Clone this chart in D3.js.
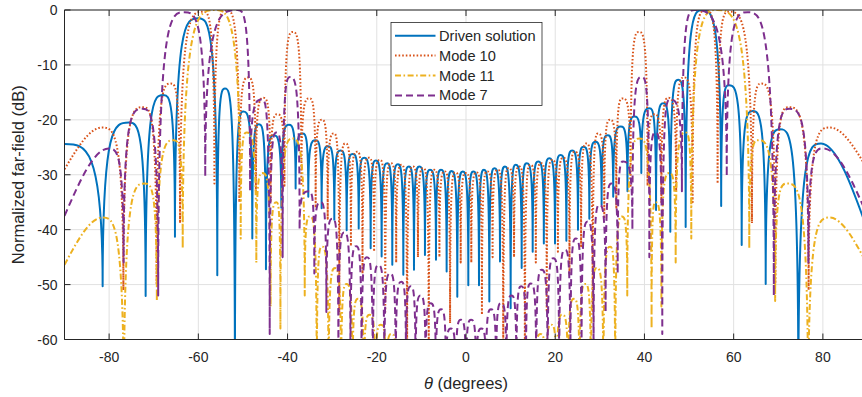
<!DOCTYPE html>
<html>
<head>
<meta charset="utf-8">
<script src="https://cdn.jsdelivr.net/npm/d3@7"></script>
<style>
  html, body { margin: 0; padding: 0; background: #fff; }
  svg { display: block; }
  text { font-family: "Liberation Sans", Arial, Helvetica, sans-serif; fill: #262626; }
</style>
</head>
<body>
<svg id="chart" width="862" height="397"></svg>
<script>
// Far-field patterns: lobe extrema as [theta (deg), level (dB)], nulls and peaks alternating
const drivenLobes = [
  [-90,-24.4],[-81.45,-50.3],[-75.55,-20.5],[-71.81,-52.1],[-67.85,-15.5],[-65.24,-41.3],
  [-60.0,-1.5],[-55.75,-48.3],[-54.03,-14.3],[-51.8,-70],[-49.92,-18.5],[-47.9,-41.6],
  [-46.41,-20.8],[-44.84,-47.2],[-43.12,-22.8],[-41.4,-36],[-39.7,-20.9],[-38.19,-32.5],
  [-36.65,-22.5],[-35.35,-34.0],[-33.7,-23.7],[-32.36,-36.1],[-30.9,-24.8],[-29.52,-38.2],
  [-28.1,-25.6],[-26.75,-40.1],[-25.4,-26.2],[-24.05,-39.8],[-22.8,-26.9],[-21.37,-43.4],
  [-20.2,-27.4],[-18.91,-44.9],[-17.65,-27.9],[-16.52,-46.4],[-15.25,-28.1],[-14.05,-48.2],
  [-12.78,-28.5],[-11.66,-47.3],[-10.47,-28.5],[-9.2,-44.6],[-8.07,-29.1],[-6.73,-45.5],
  [-5.61,-29.1],[-4.34,-47.6],[-3.22,-29.3],[-1.95,-52.2],[-0.75,-29.4],[0.52,-50.1],
  [1.64,-29.4],[2.91,-50.1],[4.03,-29.1],[5.23,-53.1],[6.35,-28.8],[7.62,-45.8],
  [8.74,-28.5],[10.01,-54.3],[11.13,-28.2],[12.48,-47],[13.6,-27.9],[14.95,-44],
  [16.2,-27.6],[17.45,-42.5],[18.68,-27.0],[19.95,-42.5],[21.2,-26.4],[22.5,-42],
  [23.8,-25.6],[25.1,-40],[26.35,-24.9],[27.65,-38],[29.0,-24.0],[30.4,-35.5],
  [31.75,-22.8],[33.0,-34],[34.67,-21.2],[36.2,-33],[37.74,-19.4],[39.3,-29.7],
  [41.1,-17.9],[42.6,-36.4],[44.24,-17.0],[45.8,-40.4],[47.6,-12.7],[49.24,-39.5],
  [52.98,0],[57.2,-35.7],[58.96,-13.7],[61.8,-42.8],[64.26,-18.4],[67.18,-49.9],
  [70.39,-21.7],[74.5,-70],[79.58,-24.3],[90,-40]
];

const mode10Lobes = [
  [-90,-29.0],[-81.6,-21.4],[-76.8,-51],[-72.4,-17.7],[-69.35,-49.8],[-66.2,-13.4],
  [-64.1,-38.8],[-58.95,-0.3],[-56.4,-31.6],[-53.75,0],[-50.8,-35],[-48.85,-12.3],
  [-47.1,-33],[-45.4,-16],[-43.8,-35],[-42.3,-19],[-40.7,-32],[-38.8,-4],
  [-36.9,-32],[-35.1,-16.1],[-33.7,-36],[-32.3,-20],[-31.0,-38],[-29.6,-22.5],
  [-28.4,-55],[-27.0,-24.3],[-25.8,-43],[-24.4,-25.8],[-23.2,-48],[-21.8,-26.9],
  [-20.6,-44],[-19.3,-27.3],[-18.1,-55],[-16.85,-27.9],[-15.65,-46],[-14.42,-28.2],
  [-13.2,-65],[-11.97,-28.5],[-10.77,-45],[-9.56,-28.8],[-8.35,-65],[-7.16,-29.1],
  [-5.96,-45],[-4.76,-29.4],[-3.57,-57],[-2.38,-29.6],[-1.19,-46],[0,-29.7],
  [1.19,-46],[2.38,-29.6],[3.57,-55.5],[4.76,-29.4],[5.96,-45],[7.16,-29.1],
  [8.35,-65],[9.56,-28.8],[10.77,-45],[11.97,-28.5],[13.2,-65],[14.42,-28.2],
  [15.65,-46],[16.85,-27.9],[18.1,-55],[19.3,-27.3],[20.6,-44],[21.8,-26.9],
  [23.2,-48],[24.4,-25.8],[25.8,-43],[27.0,-24.3],[28.4,-55],[29.6,-22.5],
  [31.0,-38],[32.3,-20],[33.7,-36],[35.1,-16.1],[36.9,-32],[38.8,-4],
  [40.7,-32],[42.3,-19],[43.8,-35],[45.4,-16],[47.1,-33],[48.85,-12.3],
  [50.8,-35],[53.75,0],[56.4,-31.6],[58.95,-0.3],[64.1,-38.8],[66.2,-13.4],
  [69.35,-49.8],[72.4,-17.7],[76.8,-51],[81.6,-21.4],[90,-29.0]
];

const mode11Lobes = [
  [-90,-46.4],[-81.5,-37.8],[-76.7,-75],[-72.0,-31.6],[-69.3,-53],[-65.5,-23.7],
  [-63.5,-43.4],[-56.25,0],[-50.5,-41.6],[-49.15,-22.3],[-47.0,-46],[-45.6,-29.7],
  [-43.8,-54],[-42.5,-35],[-41.6,-58],[-38.9,-23.4],[-36.15,-52],[-34.95,-37.6],
  [-33.45,-72],[-32.3,-43.1],[-30.8,-72],[-29.35,-47],[-28.0,-72],[-26.75,-49.9],
  [-25.45,-72],[-24.2,-52.6],[-22.9,-72],[-21.6,-55.5],[-20.3,-72],[-19.1,-57.3],
  [-17.9,-72],[-16.7,-59],[-15.5,-72],[-14.4,-60.5],[-13.2,-73],[-12.0,-61.5],
  [-10.8,-74],[-9.6,-62],[-8.4,-74],[-7.2,-62.5],[-6.0,-74],[-4.8,-63],
  [-3.6,-74],[-2.4,-63],[-1.2,-74],[0,-63],[1.2,-74],[2.4,-63],
  [3.6,-74],[4.8,-63],[6.0,-74],[7.2,-62.5],[8.4,-74],[9.6,-62],
  [10.8,-74],[12.0,-61.5],[13.2,-73],[14.4,-60.5],[15.5,-72],[16.7,-59],
  [17.9,-72],[19.1,-57.3],[20.3,-72],[21.6,-55.5],[22.9,-72],[24.2,-52.6],
  [25.45,-72],[26.75,-49.9],[28.0,-72],[29.35,-47],[30.8,-72],[32.3,-43.1],
  [33.45,-72],[34.95,-37.6],[36.15,-52],[38.9,-23.4],[41.6,-58],[42.5,-35],
  [43.8,-54],[45.6,-29.7],[47.0,-46],[49.15,-22.3],[50.5,-41.6],[56.25,0],
  [63.5,-43.4],[65.5,-23.7],[69.3,-53],[72.0,-31.6],[76.7,-75],[81.5,-37.8],[90,-46.4]
];

const mode7Lobes = [
  [-90,-37.5],[-80.1,-25.2],[-76.75,-46],[-72.5,-18],[-69.0,-52],[-63.1,-0.4],
  [-58.45,-30.3],[-51.2,0],[-48.4,-33],[-45.75,-16.3],[-44.0,-59],[-42.5,-22.3],
  [-41.1,-45],[-39.4,-12.2],[-37.3,-40],[-35.2,-33],[-34.0,-48],[-32.6,-35],
  [-31.3,-55],[-29.9,-38],[-28.6,-65],[-27.3,-40.5],[-25.9,-65],[-24.6,-43],
  [-23.4,-68],[-22.2,-45],[-20.9,-68],[-19.6,-46.5],[-18.3,-68],[-17.0,-48],
  [-15.75,-68],[-14.5,-49.5],[-13.45,-66],[-12.4,-50.3],[-11.3,-68],[-10.2,-52],
  [-9.05,-68],[-7.9,-53.4],[-6.75,-68],[-5.6,-54.5],[-4.5,-68],[-3.4,-58],
  [-2.3,-70],[-1.15,-56.4],[0,-70],[1.15,-56.4],[2.3,-70],[3.4,-58],
  [4.5,-68],[5.6,-54.5],[6.75,-68],[7.9,-53.4],[9.05,-68],[10.2,-52],
  [11.3,-68],[12.4,-50.3],[13.45,-66],[14.5,-49.8],[15.75,-68],[17.0,-47.3],
  [18.3,-68],[19.6,-45.2],[20.9,-68],[22.2,-43.7],[23.4,-68],[24.6,-41.6],
  [25.9,-65],[27.3,-38.5],[28.6,-65],[29.9,-35.5],[31.3,-55],[32.6,-31.6],
  [34.0,-48],[35.2,-27.6],[37.3,-40],[39.4,-12.2],[41.1,-45],[42.5,-22.3],
  [44.0,-59],[45.75,-16.3],[48.4,-33],[51.2,0],[58.45,-30.3],[63.1,-0.4],
  [69.0,-52],[72.5,-18],[76.75,-46],[80.1,-25.2],[90,-37.5]
];

const seriesNames = ["Driven solution", "Mode 10", "Mode 11", "Mode 7"];
const xTicks = [-80, -60, -40, -20, 0, 20, 40, 60, 80];
const yTicks = [0, -10, -20, -30, -40, -50, -60];

// Layout and styling
const plot = { left: 64.5, right: 867.5, top: 10, bottom: 339.5 };
const styles = [
  { color: "#0072BD", dash: null },
  { color: "#D95319", dash: "1.6,2" },
  { color: "#EDB120", dash: "6,2.5,1.6,2.5" },
  { color: "#7E2F8E", dash: "7,4" }
];
const ink = "#262626";

const svg = d3.select("#chart");
const x = d3.scaleLinear().domain([-90, 90]).range([plot.left, plot.right]);
const y = d3.scaleLinear().domain([-60, 0]).range([plot.bottom, plot.top]);

// Lobe-shaped curve: flat tangent at the higher end of each span, steep at the lower end
function lobeCurve(context) {
  let pts;
  const K = 0.45;
  return {
    areaStart() {}, areaEnd() {},
    lineStart() { pts = []; },
    point(px, py) { pts.push([+px, +py]); },
    lineEnd() {
      if (!pts.length) return;
      const n = pts.length;
      context.moveTo(pts[0][0], pts[0][1]);
      for (let i = 1; i < n; i++) {
        const [ax, ay] = pts[i - 1], [bx, by] = pts[i];
        const h = bx - ax;
        const rising = by < ay;
        const lowIsEnd = rising ? (i - 1 === 0) : (i === n - 1);
        if (lowIsEnd) {
          if (rising) context.bezierCurveTo(ax + h / 3, ay + 0.5 * (by - ay), bx - h / 3, by, bx, by);
          else context.bezierCurveTo(ax + h / 3, ay, bx - h / 3, by + 0.5 * (ay - by), bx, by);
        } else if (rising) {
          context.bezierCurveTo(ax, by, ax + K * h, by, bx, by);
        } else {
          context.bezierCurveTo(bx - K * h, ay, bx, ay, bx, by);
        }
      }
    }
  };
}

const line = d3.line().x(d => x(d[0])).y(d => y(d[1])).curve(lobeCurve);

// Clip region
svg.append("defs").append("clipPath").attr("id", "plotClip")
  .append("rect")
  .attr("x", plot.left).attr("y", plot.top)
  .attr("width", plot.right - plot.left).attr("height", plot.bottom - plot.top);

// Grid
const grid = svg.append("g").attr("stroke", "#e1e1e1").attr("stroke-width", 1);
grid.selectAll("line.gx").data(xTicks).join("line")
  .attr("x1", d => x(d)).attr("x2", d => x(d))
  .attr("y1", plot.top).attr("y2", plot.bottom);
grid.selectAll("line.gy").data(yTicks).join("line")
  .attr("x1", plot.left).attr("x2", plot.right)
  .attr("y1", d => y(d)).attr("y2", d => y(d));

// Series
const allSeries = [drivenLobes, mode10Lobes, mode11Lobes, mode7Lobes];
const lines = svg.append("g").attr("clip-path", "url(#plotClip)");
allSeries.forEach((data, i) => {
  lines.append("path")
    .attr("d", line(data))
    .attr("fill", "none")
    .attr("stroke", styles[i].color)
    .attr("stroke-width", 2)
    .attr("stroke-linejoin", "round")
    .attr("stroke-dasharray", styles[i].dash);
});

// Axes box and inward ticks
const axes = svg.append("g").attr("stroke", ink).attr("stroke-width", 1).attr("fill", "none");
axes.append("path").attr("d",
  `M${plot.right},${plot.top}H${plot.left}V${plot.bottom}H${plot.right}`);
const tickLen = 6;
axes.selectAll("line.tb").data(xTicks).join("line")
  .attr("x1", d => x(d)).attr("x2", d => x(d))
  .attr("y1", plot.bottom).attr("y2", plot.bottom - tickLen);
axes.selectAll("line.tt").data(xTicks).join("line")
  .attr("x1", d => x(d)).attr("x2", d => x(d))
  .attr("y1", plot.top).attr("y2", plot.top + tickLen);
axes.selectAll("line.tl").data(yTicks).join("line")
  .attr("x1", plot.left).attr("x2", plot.left + tickLen)
  .attr("y1", d => y(d)).attr("y2", d => y(d));

// Tick labels
svg.append("g").selectAll("text").data(xTicks).join("text")
  .attr("x", d => x(d)).attr("y", 362)
  .attr("text-anchor", "middle").attr("font-size", 14)
  .text(d => d);
svg.append("g").selectAll("text").data(yTicks).join("text")
  .attr("x", plot.left - 7).attr("y", d => y(d) + 5)
  .attr("text-anchor", "end").attr("font-size", 14)
  .text(d => d);

// Axis titles
const xTitle = svg.append("text")
  .attr("x", x(0)).attr("y", 389)
  .attr("text-anchor", "middle").attr("font-size", 16.5);
xTitle.append("tspan").attr("font-style", "italic").text("θ");
xTitle.append("tspan").text(" (degrees)");

svg.append("text")
  .attr("transform", `translate(24,${(plot.top + plot.bottom) / 2}) rotate(-90)`)
  .attr("text-anchor", "middle").attr("font-size", 16.5)
  .text("Normalized far-field (dB)");

// Legend
const lg = svg.append("g").attr("transform", "translate(391,22.5)");
lg.append("rect").attr("width", 151).attr("height", 83)
  .attr("fill", "#fff").attr("stroke", ink).attr("stroke-width", 0.8);
seriesNames.forEach((name, i) => {
  const ry = 13.2 + i * 19.9;
  lg.append("line")
    .attr("x1", 4).attr("x2", 44.5).attr("y1", ry).attr("y2", ry)
    .attr("stroke", styles[i].color).attr("stroke-width", 2)
    .attr("stroke-dasharray", styles[i].dash);
  lg.append("text").attr("x", 48).attr("y", ry + 5)
    .attr("font-size", 14.6).text(name);
});
</script>
</body>
</html>
